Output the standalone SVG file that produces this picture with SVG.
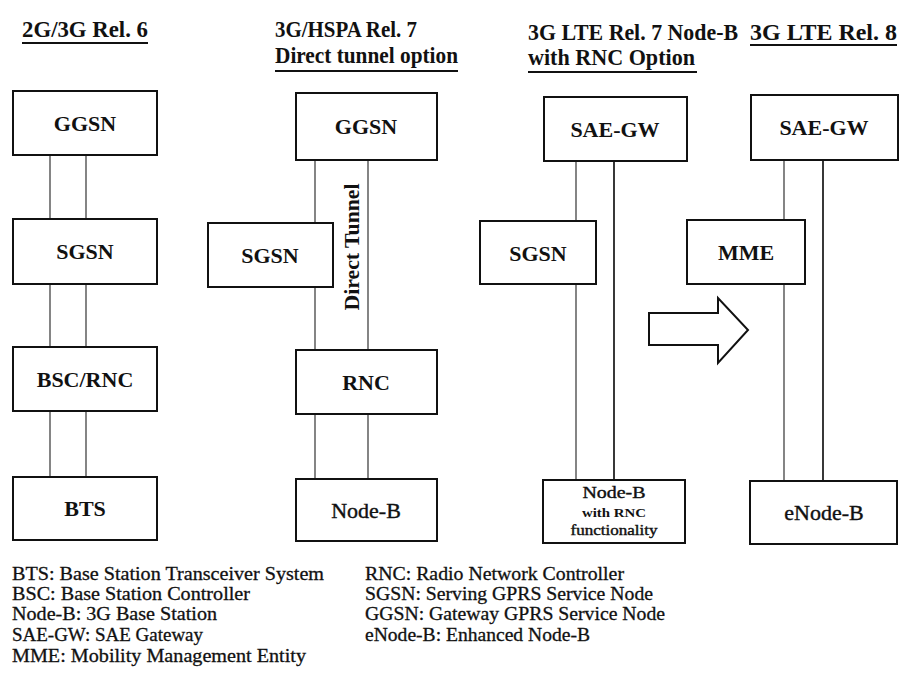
<svg xmlns="http://www.w3.org/2000/svg" width="908" height="677" viewBox="0 0 908 677">
<style>
.box{fill:#fff;stroke:#111;stroke-width:2}
.lbl{font-family:"Liberation Serif","Times New Roman",serif;font-weight:bold;font-size:22px;fill:#111;text-anchor:middle}
.reg{font-weight:normal;stroke:#111;stroke-width:0.4}
.ttl{font-family:"Liberation Serif","Times New Roman",serif;font-weight:bold;font-size:23px;fill:#111}
.ul{stroke:#111;stroke-width:2}
.ln{stroke:#666;stroke-width:1.6;fill:none}
.ln2{stroke:#222;stroke-width:1.8;fill:none}
.leg{font-family:"Liberation Serif","Times New Roman",serif;font-size:19px;fill:#111;stroke:#111;stroke-width:0.3}
</style>
<rect width="908" height="677" fill="#fff"/>
<g id="titles">
<text class="ttl" x="22" y="37" textLength="126" lengthAdjust="spacingAndGlyphs">2G/3G Rel. 6</text>
<line class="ul" x1="22" y1="43" x2="148" y2="43"/>
<text class="ttl" x="275" y="37" textLength="142" lengthAdjust="spacingAndGlyphs">3G/HSPA Rel. 7</text>
<text class="ttl" x="275" y="63" textLength="183" lengthAdjust="spacingAndGlyphs">Direct tunnel option</text>
<line class="ul" x1="275" y1="71" x2="458" y2="71"/>
<text class="ttl" x="528" y="40" textLength="210" lengthAdjust="spacingAndGlyphs">3G LTE Rel. 7 Node-B</text>
<text class="ttl" x="528" y="65" textLength="167" lengthAdjust="spacingAndGlyphs">with RNC Option</text>
<line class="ul" x1="528" y1="72" x2="697" y2="72"/>
<text class="ttl" x="750" y="40" textLength="147" lengthAdjust="spacingAndGlyphs">3G LTE Rel. 8</text>
<line class="ul" x1="750" y1="45" x2="897" y2="45"/>
</g>
<g id="connectors">
<line class="ln" x1="50" y1="155" x2="50" y2="219"/>
<line class="ln" x1="86" y1="155" x2="86" y2="219"/>
<line class="ln" x1="50" y1="284" x2="50" y2="347"/>
<line class="ln" x1="86" y1="284" x2="86" y2="347"/>
<line class="ln" x1="50" y1="411" x2="50" y2="477"/>
<line class="ln" x1="86" y1="411" x2="86" y2="477"/>
<line class="ln" x1="315" y1="160" x2="315" y2="223"/>
<line class="ln" x1="315" y1="287" x2="315" y2="350"/>
<line class="ln" x1="368" y1="160" x2="368" y2="350"/>
<line class="ln" x1="315" y1="414" x2="315" y2="479"/>
<line class="ln" x1="368" y1="414" x2="368" y2="479"/>
<line class="ln" x1="576" y1="161" x2="576" y2="221"/>
<line class="ln" x1="576" y1="284" x2="576" y2="480"/>
<line class="ln2" x1="614" y1="161" x2="614" y2="480"/>
<line class="ln" x1="784" y1="160" x2="784" y2="220"/>
<line class="ln" x1="784" y1="284" x2="784" y2="481"/>
<line class="ln2" x1="823" y1="160" x2="823" y2="481"/>
<text class="lbl" transform="translate(359,247) rotate(-90)" style="font-size:21px" textLength="127" lengthAdjust="spacingAndGlyphs">Direct Tunnel</text>
</g>
<g id="c1-ggsn"><rect class="box" x="13" y="91" width="144" height="64"/><text class="lbl" x="85" y="131">GGSN</text></g>
<g id="c1-sgsn"><rect class="box" x="13" y="219" width="144" height="65"/><text class="lbl" x="85" y="259">SGSN</text></g>
<g id="c1-bsc"><rect class="box" x="13" y="347" width="144" height="64"/><text class="lbl" x="85" y="387">BSC/RNC</text></g>
<g id="c1-bts"><rect class="box" x="13" y="477" width="144" height="63"/><text class="lbl" x="85" y="516">BTS</text></g>
<g id="c2-ggsn"><rect class="box" x="296" y="93" width="141" height="67"/><text class="lbl" x="366" y="134">GGSN</text></g>
<g id="c2-sgsn"><rect class="box" x="208" y="223" width="125" height="64"/><text class="lbl" x="270" y="263">SGSN</text></g>
<g id="c2-rnc"><rect class="box" x="296" y="350" width="141" height="64"/><text class="lbl" x="366" y="390">RNC</text></g>
<g id="c2-nodeb"><rect class="box" x="296" y="479" width="141" height="62"/><text class="lbl reg" x="366" y="518">Node-B</text></g>
<g id="c3-saegw"><rect class="box" x="544" y="97" width="143" height="64"/><text class="lbl" x="615" y="137">SAE-GW</text></g>
<g id="c3-sgsn"><rect class="box" x="480" y="221" width="116" height="63"/><text class="lbl" x="538" y="261">SGSN</text></g>
<g id="c3-nodeb"><rect class="box" x="543" y="480" width="142" height="63"/>
<text class="lbl reg" x="614" y="498" style="font-size:16px" textLength="63" lengthAdjust="spacingAndGlyphs">Node-B</text>
<text class="lbl" x="614" y="517" style="font-size:13px" textLength="64" lengthAdjust="spacingAndGlyphs">with RNC</text>
<text class="lbl reg" x="614" y="535" style="font-size:14px" textLength="87" lengthAdjust="spacingAndGlyphs">functionality</text></g>
<g id="c4-saegw"><rect class="box" x="751" y="95" width="147" height="65"/><text class="lbl" x="824" y="135">SAE-GW</text></g>
<g id="c4-mme"><rect class="box" x="687" y="220" width="118" height="64"/><text class="lbl" x="746" y="260">MME</text></g>
<g id="c4-enodeb"><rect class="box" x="750" y="481" width="147" height="63"/><text class="lbl reg" x="824" y="520">eNode-B</text></g>
<g id="arrow"><polygon points="649,313 718,313 718,298 748,330 718,363 718,345 649,345" fill="#fff" stroke="#111" stroke-width="2" stroke-linejoin="miter"/></g>
<g id="legend">
<text class="leg" x="12" y="580" textLength="312" lengthAdjust="spacingAndGlyphs">BTS: Base Station Transceiver System</text>
<text class="leg" x="12" y="600" textLength="238" lengthAdjust="spacingAndGlyphs">BSC: Base Station Controller</text>
<text class="leg" x="12" y="620" textLength="205" lengthAdjust="spacingAndGlyphs">Node-B: 3G Base Station</text>
<text class="leg" x="12" y="641" textLength="191" lengthAdjust="spacingAndGlyphs">SAE-GW: SAE Gateway</text>
<text class="leg" x="12" y="662" textLength="294" lengthAdjust="spacingAndGlyphs">MME: Mobility Management Entity</text>
<text class="leg" x="365" y="580" textLength="259" lengthAdjust="spacingAndGlyphs">RNC: Radio Network Controller</text>
<text class="leg" x="365" y="600" textLength="288" lengthAdjust="spacingAndGlyphs">SGSN: Serving GPRS Service Node</text>
<text class="leg" x="365" y="620" textLength="300" lengthAdjust="spacingAndGlyphs">GGSN: Gateway GPRS Service Node</text>
<text class="leg" x="365" y="641" textLength="225" lengthAdjust="spacingAndGlyphs">eNode-B: Enhanced Node-B</text>
</g>
</svg>
